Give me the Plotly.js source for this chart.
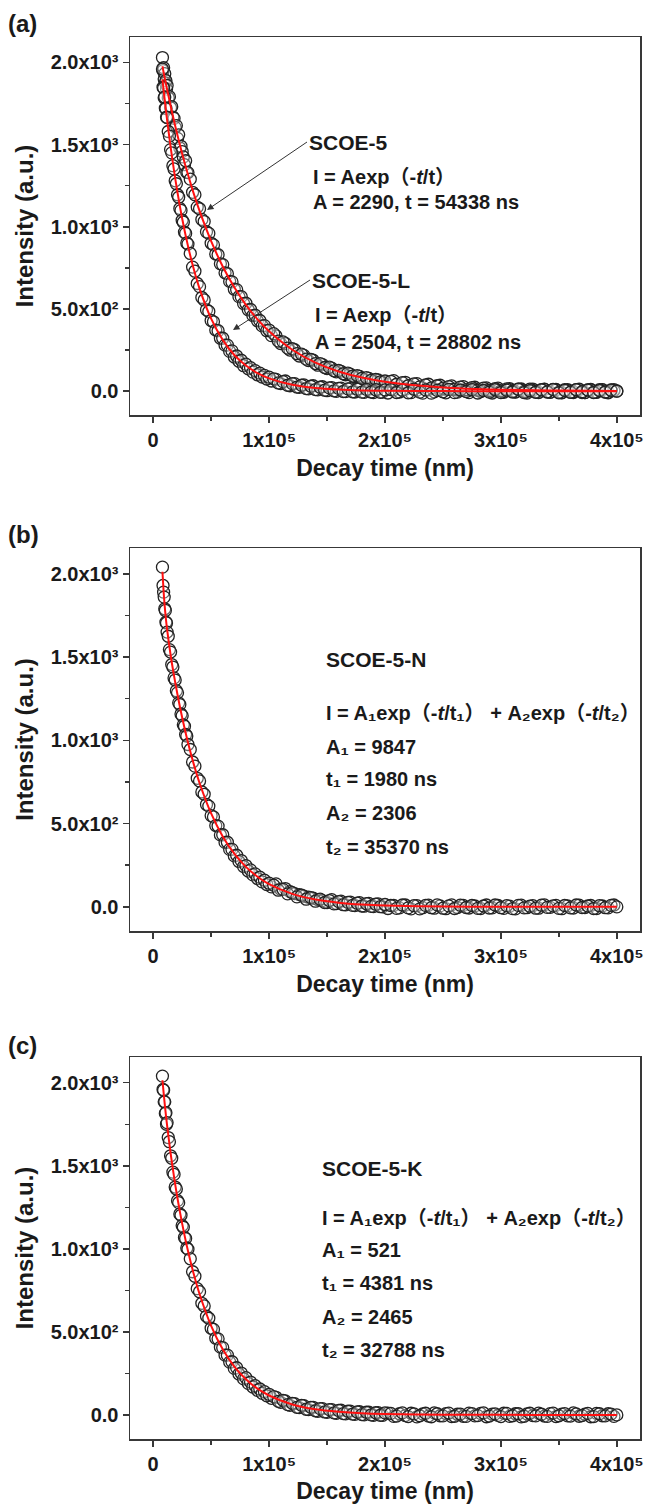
<!DOCTYPE html>
<html>
<head>
<meta charset="utf-8">
<script src="https://cdn.plot.ly/plotly-3.0.1.min.js"></script>
<style>html,body{margin:0;padding:0;background:#fff;}#chart{width:646px;height:1504px;}</style>
</head>
<body>
<div id="chart"></div>
<script>
// ---------------- data ----------------
const times = [8000,8500,9000,9500,10000,10500,11000,11500,12000,13000,14000,15000,16000,17000,18000,19000,20000,21000,22000,23000,24000,25000,26000,27000,28000,29000,30000,
32000,34000,36000,38000,40000,42000,44000,46000,48000,50000,52000,54000,56000,58000,60000,62000,64000,66000,68000,70000,72000,74000,76000,78000,80000,82000,84000,86000,88000,90000,92000,94000,96000,98000,100000,
104000,108000,112000,116000,120000,124000,128000,132000,136000,140000,144000,148000,152000,156000,160000,164000,168000,172000,176000,180000,184000,188000,192000,196000,200000,
205000,210000,215000,220000,225000,230000,235000,240000,245000,250000,255000,260000,265000,270000,275000,280000,285000,290000,295000,300000,305000,310000,315000,320000,325000,330000,335000,340000,345000,350000,355000,360000,365000,370000,375000,380000,385000,390000,395000,400000];

// extra (interleaved) sampling times of the slow tail
const tailTimes = [102000,106000,110000,114000,118000,122000,126000,130000,134000,138000,142000,146000,150000,154000,158000,162000,166000,170000,174000,178000,182000,186000,190000,194000,198000,
202500,207500,212500,217500,222500,227500,232500,237500,242500,247500,252500,257500,262500,267500,272500,277500,282500,287500,292500,297500,302500,307500,312500,317500,322500,327500,332500,337500,342500,347500,352500,357500,362500,367500,372500,377500,382500,387500,392500,397500];

const scoe5 = [2030,1950,1968,1900,1932,1876,1889,1838,1860,1785,1792,1725,1731,1668,1660,1605,1616,1538,1560,1480,1490,1458,1425,1378,1402,1331,1330,
1290,1210,1195,1120,1110,1045,1032,970,960,900,890,835,830,775,770,720,715,668,665,620,618,575,575,533,535,495,497,460,462,428,430,397,399,368,372,
350,305,300,262,258,228,225,195,193,168,168,144,146,124,126,106,110,92,95,78,82,66,72,57,62,
60,42,52,33,44,26,38,20,33,18,28,12,25,9,22,6,19,4,16,2,14,0,13,-2,12,-4,10,-5,11,-6,9,-7,10,-8,8,-6,9,-5,7,1];
const scoe5Tail = [338,336,290,290,250,252,214,218,186,188,158,162,138,140,118,121,100,104,88,90,72,78,62,68,54,
40,64,32,54,26,46,20,42,14,36,10,32,6,28,4,24,2,20,-1,18,-3,16,-4,14,-5,13,-6,12,-7,11,-8,10,-8,9,-9,11,-7,8,-10,9];

const scoe5L = [1960,1850,1845,1785,1790,1722,1720,1668,1665,1580,1552,1470,1450,1372,1352,1280,1262,1195,1180,1112,1100,1040,1028,968,960,902,895,
838,755,730,655,636,570,555,495,485,430,422,372,368,322,322,280,280,242,245,208,214,182,188,155,164,136,143,116,125,100,110,86,96,74,85,
75,50,58,36,46,25,36,16,30,10,24,6,20,2,17,-2,14,-4,12,-6,11,-5,9,-7,8,
10,-8,6,-10,12,-6,8,-12,5,-4,11,-9,7,-3,9,-11,4,-6,10,-8,6,-5,12,-9,3,-7,8,-4,10,-10,5,-6,9,-3,7,-8,4,-5,6,0];
const scoe5LTail = [62,72,46,62,33,46,24,38,14,33,8,27,3,22,-1,18,-3,15,-5,14,-7,12,-8,11,-6,
-11,9,-5,12,-9,6,-12,10,-4,7,-10,11,-6,5,-9,12,-3,8,-11,6,-7,10,-5,9,-12,4,-8,11,-6,7,-10,5,-4,12,-9,8,-5,10,-7,3];

const scoe5N = [2040,1930,1890,1860,1790,1780,1710,1705,1650,1625,1545,1530,1455,1440,1375,1362,1298,1285,1225,1215,1158,1148,1093,1085,1035,1026,975,
945,870,845,772,756,690,676,615,605,548,540,488,485,432,433,387,388,345,345,306,310,272,278,242,248,215,222,192,198,170,178,150,160,134,142,
130,100,105,78,85,60,70,46,56,34,46,26,38,18,32,13,27,9,22,5,19,3,16,1,14,
8,-9,11,-6,7,-12,9,-5,12,-8,6,-10,10,-4,8,-9,5,-7,11,-5,7,-11,9,-6,4,-8,10,-3,6,-9,8,-6,11,-4,5,-10,7,-5,9,0];
const scoe5NTail = [120,138,106,110,92,80,74,64,58,52,44,38,26,43,20,34,12,29,8,25,4,21,2,18,0,
-10,8,-6,11,-12,7,-5,10,-8,6,-11,12,-4,9,-7,5,-10,11,-6,8,-9,4,-12,10,-5,7,-8,12,-3,9,-11,6,-7,10,-4,8,-10,5,-6,11];

const scoe5K = [2040,1960,1955,1885,1885,1815,1820,1750,1760,1670,1645,1560,1545,1462,1448,1372,1360,1290,1278,1210,1202,1140,1130,1068,1062,1005,998,
940,862,835,760,742,672,656,594,582,522,515,462,458,408,405,360,360,318,320,280,284,246,252,217,224,190,198,168,176,148,156,130,140,115,124,
110,82,88,62,70,46,58,34,46,25,38,18,32,12,27,8,22,5,18,2,16,0,13,-2,12,
9,-7,12,-10,6,-5,10,-11,7,-6,11,-8,5,-9,8,-4,12,-7,6,-10,9,-5,7,-8,10,-6,4,-9,11,-5,8,-7,6,-4,9,-10,7,-6,5,0];
const scoe5KTail = [100,106,76,84,58,68,44,56,32,46,22,38,16,32,10,28,6,23,3,19,0,16,-2,14,-3,
11,-9,7,-4,10,-12,6,-7,12,-5,8,-10,4,-8,11,-6,9,-11,5,-3,10,-9,7,-12,6,-4,11,-7,8,-10,5,-6,12,-8,4,-11,9,-5,7,-9];

const fitTimes = [8000,9000,10000,11000,12000,15000,18000,21000,25000,30000,35000,40000,50000,60000,70000,80000,90000,100000,120000,140000,160000,180000,200000,250000,300000,350000,400000];
const fitScoe5  = [1977,1940,1905,1870,1836,1738,1644,1556,1445,1318,1202,1097,913,759,632,525,437,364,252,174,120,83,58,23,9,3.6,1.5];
const fitScoe5L = [1897,1832,1770,1709,1651,1488,1340,1208,1051,884,743,624,441,312,220,156,110,78,39,19,9.7,4.8,2.4,0.4,0.1,0,0];
const fitScoe5N = [2012,1893,1801,1728,1666,1514,1387,1274,1137,987,857,744,561,423,319,240,181,136,78,44,25,14,8,2,0.5,0.1,0];
const fitScoe5K = [2015,1940,1870,1804,1744,1577,1433,1303,1152,988,848,728,536,395,291,215,158,117,63,34,19,10,5.5,1.2,0.3,0.1,0];

const xTickVals = [0,100000,200000,300000,400000];
const xTickText = ["0","1x10⁵","2x10⁵","3x10⁵","4x10⁵"];
const yTickVals = [0,500,1000,1500,2000];
const yTickText = ["0.0","5.0x10²","1.0x10³","1.5x10³","2.0x10³"];

const xTitle = "Decay time (nm)";
const yTitle = "Intensity (a.u.)";
const panelLabels = ["(a)","(b)","(c)"];
const textA = ["SCOE-5","I = Aexp（-<i>t</i>/t）","A = 2290, t = 54338 ns","SCOE-5-L","I = Aexp（-<i>t</i>/t）","A = 2504, t = 28802 ns"];
const textB = ["SCOE-5-N","I = A₁exp（-<i>t</i>/t₁） + A₂exp（-<i>t</i>/t₂）","A₁ = 9847","t₁ = 1980 ns","A₂ = 2306","t₂ = 35370 ns"];
const textC = ["SCOE-5-K","I = A₁exp（-<i>t</i>/t₁） + A₂exp（-<i>t</i>/t₂）","A₁ = 521","t₁ = 4381 ns","A₂ = 2465","t₂ = 32788 ns"];

// ---------------- layout helpers ----------------
const W = 646, H = 1504;
const FONT = "'Liberation Sans', Arial, 'DejaVu Sans', 'Noto Sans CJK SC', sans-serif";
const INK = '#1a1a1a';
const px = p => p / W;
const py = p => 1 - p / H;
const frameTop = [37, 548, 1057], frameBottom = [415, 931, 1439];

function markerTrace(x, y, xa, ya) {
  return {x: x, y: y, xaxis: xa, yaxis: ya, type: 'scatter', mode: 'markers', hoverinfo: 'skip',
    marker: {symbol: 'circle', size: 12, color: 'rgba(255,255,255,0.3)', line: {color: '#222', width: 1.3}}};
}
function fitTrace(x, y, xa, ya) {
  return {x: x, y: y, xaxis: xa, yaxis: ya, type: 'scatter', mode: 'lines', hoverinfo: 'skip',
    line: {color: '#ff1010', width: 2, shape: 'spline', smoothing: 0.8}};
}

const data = [
  markerTrace(tailTimes, scoe5Tail, 'x', 'y'),
  markerTrace(tailTimes, scoe5LTail, 'x', 'y'),
  markerTrace(times, scoe5, 'x', 'y'),
  markerTrace(times, scoe5L, 'x', 'y'),
  fitTrace(fitTimes, fitScoe5, 'x', 'y'),
  fitTrace(fitTimes, fitScoe5L, 'x', 'y'),
  markerTrace(tailTimes, scoe5NTail, 'x2', 'y2'),
  markerTrace(times, scoe5N, 'x2', 'y2'),
  fitTrace(fitTimes, fitScoe5N, 'x2', 'y2'),
  markerTrace(tailTimes, scoe5KTail, 'x3', 'y3'),
  markerTrace(times, scoe5K, 'x3', 'y3'),
  fitTrace(fitTimes, fitScoe5K, 'x3', 'y3')
];

const tickFont = {family: FONT, size: 20, color: INK, weight: 'bold'};
const xTitleFont = {family: FONT, size: 23, color: INK, weight: 'bold'};
const yTitleFont = {family: FONT, size: 24, color: INK, weight: 'bold'};
const lineCol = '#383838';

function xAxis(i) {
  return {
    domain: [px(130), px(640)], anchor: i === 0 ? 'y' : 'y' + (i + 1),
    range: [-20000, 420000], tickmode: 'array', tickvals: xTickVals, ticktext: xTickText,
    showline: true, mirror: true, linecolor: lineCol, linewidth: 1.5,
    ticks: 'outside', ticklen: 6, tickwidth: 1.5, tickcolor: lineCol,
    minor: {tickmode: 'linear', tick0: 50000, dtick: 100000, ticks: 'outside', ticklen: 4, tickwidth: 1.5, tickcolor: lineCol},
    showgrid: false, zeroline: false, tickfont: tickFont,
    title: {text: xTitle, font: xTitleFont, standoff: 10}
  };
}
function yAxis(i) {
  return {
    domain: [py(frameBottom[i]), py(frameTop[i])], anchor: i === 0 ? 'x' : 'x' + (i + 1),
    range: [-145, 2155], tickmode: 'array', tickvals: yTickVals, ticktext: yTickText,
    showline: true, mirror: true, linecolor: lineCol, linewidth: 1.5,
    ticks: 'outside', ticklen: 6, tickwidth: 1.5, tickcolor: lineCol,
    minor: {tickmode: 'linear', tick0: 250, dtick: 500, ticks: 'outside', ticklen: 4, tickwidth: 1.5, tickcolor: lineCol},
    showgrid: false, zeroline: false, tickfont: tickFont,
    title: {text: yTitle, font: yTitleFont, standoff: 10}
  };
}

function textAnn(t, xp, yp, size) {
  return {text: t, xref: 'paper', yref: 'paper', x: px(xp), y: py(yp),
    xanchor: 'left', yanchor: 'middle', showarrow: false,
    font: {family: FONT, size: size, color: INK, weight: 'bold'}};
}
// label whose arrow points from the text (tail) to a spot on the curve (tip)
function arrowLabel(t, tipX, tipY, tailX, tailY, size) {
  return {text: t, xref: 'paper', yref: 'paper', x: px(tipX), y: py(tipY),
    ax: tailX - tipX, ay: tailY - tipY, xanchor: 'left', yanchor: 'middle',
    showarrow: true, arrowhead: 2, arrowsize: 1.3, arrowwidth: 1, arrowcolor: '#333', standoff: 0,
    font: {family: FONT, size: size, color: INK, weight: 'bold'}};
}

const annotations = [];
panelLabels.forEach((t, i) => annotations.push(textAnn(t, 6, [24, 534, 1045][i], 24)));
// panel a
annotations.push(arrowLabel(textA[0], 207, 210, 307, 142, 21));
annotations.push(textAnn(textA[1], 311, 177, 20));
annotations.push(textAnn(textA[2], 311, 202, 20));
annotations.push(arrowLabel(textA[3], 233, 330, 310, 280, 21));
annotations.push(textAnn(textA[4], 313, 315, 20));
annotations.push(textAnn(textA[5], 313, 342, 20));
// panel b
[[324,659,21],[324,713,20],[324,747,20],[324,779,20],[324,813,20],[324,847,20]].forEach((p, i) =>
  annotations.push(textAnn(textB[i], p[0], p[1], p[2])));
// panel c
[[320,1168,21],[320,1218,20],[320,1250,20],[320,1283,20],[320,1317,20],[320,1350,20]].forEach((p, i) =>
  annotations.push(textAnn(textC[i], p[0], p[1], p[2])));

const layout = {
  width: W, height: H, margin: {l: 0, r: 0, t: 0, b: 0},
  paper_bgcolor: '#fff', plot_bgcolor: '#fff', showlegend: false,
  font: {family: FONT, color: INK},
  xaxis: xAxis(0), yaxis: yAxis(0),
  xaxis2: xAxis(1), yaxis2: yAxis(1),
  xaxis3: xAxis(2), yaxis3: yAxis(2),
  annotations: annotations
};

Plotly.newPlot('chart', data, layout, {staticPlot: true, displayModeBar: false});
</script>
</body>
</html>
